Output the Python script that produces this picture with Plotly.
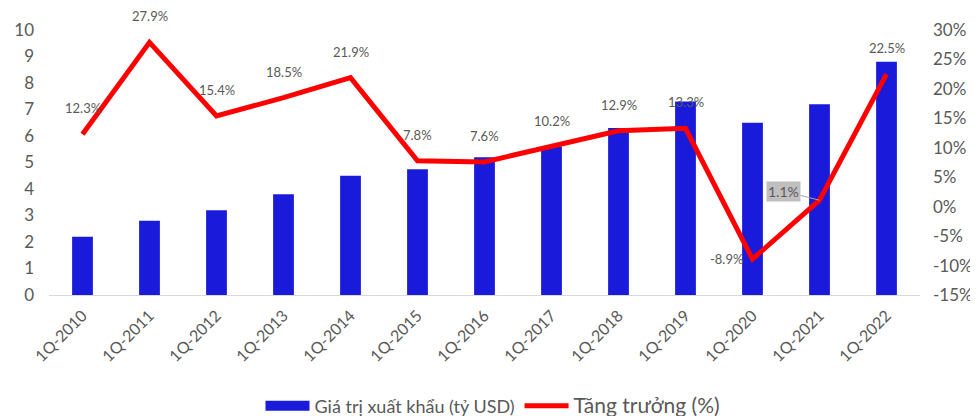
import plotly.graph_objects as go

categories = ["1Q-2010", "1Q-2011", "1Q-2012", "1Q-2013", "1Q-2014", "1Q-2015", "1Q-2016",
              "1Q-2017", "1Q-2018", "1Q-2019", "1Q-2020", "1Q-2021", "1Q-2022"]
export_value = [2.2, 2.8, 3.2, 3.8, 4.5, 4.75, 5.2, 5.6, 6.3, 7.3, 6.5, 7.2, 8.8]
growth = [12.3, 27.9, 15.4, 18.5, 21.9, 7.8, 7.6, 10.2, 12.9, 13.3, -8.9, 1.1, 22.5]
left_ticks = list(range(0, 11))
right_ticks = list(range(-15, 31, 5))

FONT = "Lato, Open Sans, sans-serif"
GRAY = "#595959"
BLUE = "#1A1ADB"
RED = "#FF0000"

W, H = 970, 408

fig = go.Figure()
fig.add_trace(go.Bar(
    x=categories, y=export_value, name="Giá trị xuất khẩu (tỷ USD)",
    marker=dict(color=BLUE, line=dict(width=0)), yaxis="y", showlegend=False,
))
# legend entry for bars drawn as a wide rectangle swatch
fig.add_trace(go.Scatter(
    x=[None], y=[None], name="Giá trị xuất khẩu (tỷ USD)",
    mode="lines", line=dict(color=BLUE, width=12), yaxis="y", hoverinfo="skip",
))
fig.add_trace(go.Scatter(
    x=categories, y=growth, name="<span style='font-size:21px'>Tăng trưởng (%)</span>",
    mode="lines", line=dict(color=RED, width=5), yaxis="y2",
))

annotations = []
for i, (c, g) in enumerate(zip(categories, growth)):
    label = f"{g:.1f}%"
    if g < 0:
        annotations.append(dict(x=c, y=g, xref="x", yref="y2", text=label, showarrow=False,
                                xanchor="right", yanchor="middle", xshift=-8,
                                font=dict(size=13, color=GRAY, family=FONT)))
    elif i == len(categories) - 2:
        annotations.append(dict(x=c, y=g, xref="x", yref="y2", text=label, showarrow=True,
                                arrowhead=0, arrowwidth=1, arrowcolor="#A6A6A6",
                                ax=-36, ay=-9, bgcolor="#BFBFBF", borderpad=1,
                                font=dict(size=14, color=GRAY, family=FONT)))
    else:
        annotations.append(dict(x=c, y=g, xref="x", yref="y2", text=label, showarrow=False,
                                xanchor="center", yanchor="bottom", yshift=16,
                                font=dict(size=13, color=GRAY, family=FONT)))

fig.update_layout(
    width=W, height=H,
    margin=dict(l=41, r=58, t=22, b=121, autoexpand=False),
    paper_bgcolor="white", plot_bgcolor="white",
    font=dict(family=FONT, color=GRAY, size=16),
    bargap=0.69,
    showlegend=True,
    legend=dict(orientation="h", x=0.5, xanchor="center", xref="container",
                y=1 - 398 / H, yanchor="middle", yref="container",
                font=dict(size=18, color=GRAY, family=FONT), itemwidth=44,
                traceorder="normal"),
    xaxis=dict(tickangle=-45, tickfont=dict(size=16, color=GRAY), showline=True,
               linecolor="#D9D9D9", linewidth=1, showgrid=False, ticks="",
               automargin=False, ticklabelstandoff=4),
    yaxis=dict(range=[0, 10], tickvals=left_ticks, showgrid=False, zeroline=False,
               tickfont=dict(size=17, color=GRAY), ticks="", showline=False,
               automargin=False, ticklabelstandoff=14),
    yaxis2=dict(range=[-15, 30], tickvals=right_ticks, ticktext=[f"{t}%" for t in right_ticks],
                overlaying="y", side="right", showgrid=False, zeroline=False,
                tickfont=dict(size=17, color=GRAY), ticks="", showline=False,
                automargin=False, ticklabelstandoff=12),
    annotations=annotations,
)

fig.write_html("out.html")
